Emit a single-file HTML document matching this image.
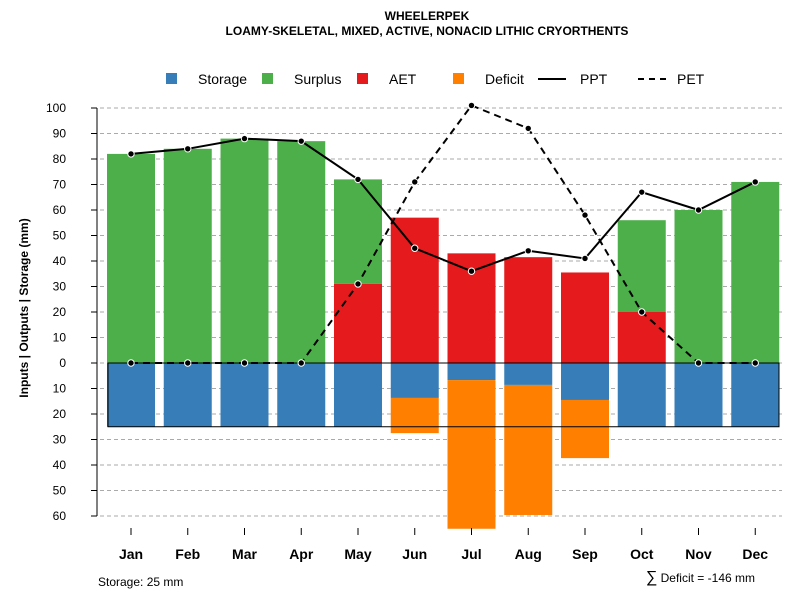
<!DOCTYPE html>
<html><head><meta charset="utf-8"><style>
body{margin:0;background:#fff;font-family:"Liberation Sans",sans-serif}
</style></head><body>
<svg id="c" width="800" height="600" xmlns="http://www.w3.org/2000/svg" font-family="Liberation Sans, sans-serif">
<text x="427" y="20" text-anchor="middle" font-size="12" font-weight="bold">WHEELERPEK</text>
<text x="427" y="35" text-anchor="middle" font-size="12" font-weight="bold">LOAMY-SKELETAL, MIXED, ACTIVE, NONACID LITHIC CRYORTHENTS</text>
<g id="legend" font-size="14">
<rect x="166" y="73" width="11" height="11" fill="#377eb8"/><text x="198" y="84">Storage</text>
<rect x="262" y="73" width="11" height="11" fill="#4daf4a"/><text x="294" y="84">Surplus</text>
<rect x="357" y="73" width="11" height="11" fill="#e41a1c"/><text x="389" y="84">AET</text>
<rect x="453" y="73" width="11" height="11" fill="#ff7f00"/><text x="485" y="84">Deficit</text>
<line x1="538" y1="79" x2="566" y2="79" stroke="#000" stroke-width="2"/><text x="580" y="84">PPT</text>
<line x1="638" y1="79" x2="666" y2="79" stroke="#000" stroke-width="2" stroke-dasharray="6,5"/><text x="677" y="84">PET</text>
</g>
<g id="grid"></g><g id="bars"></g><g id="lines"></g><g id="axes"></g>
<text transform="translate(28,308) rotate(-90)" text-anchor="middle" font-size="12" font-weight="bold">Inputs | Outputs | Storage    (mm)</text>
<text x="98" y="586" font-size="12">Storage: 25 mm</text>
<text x="755" y="582" text-anchor="end" font-size="12"><tspan font-size="16">∑</tspan> Deficit = -146 mm</text>
</svg>
<script>
const months=["Jan","Feb","Mar","Apr","May","Jun","Jul","Aug","Sep","Oct","Nov","Dec"];
const ppt=[82,84,88,87,72,45,36,44,41,67,60,71];
const pet=[0,0,0,0,31,71,101,92,58,20,0,0];
const aet=[0,0,0,0,31,57,43,41.5,35.5,20,0,0];
const surplus=[82,84,88,87,41,0,0,0,0,36,60,71];
const storage=[25,25,25,25,25,13.7,6.7,8.6,14.5,25,25,25];
const deficit=[0,0,0,0,0,13.8,58.3,51,22.8,0,0,0];
const yTicks=[60,50,40,30,20,10,0,10,20,30,40,50,60,70,80,90,100];
const yVals=[-60,-50,-40,-30,-20,-10,0,10,20,30,40,50,60,70,80,90,100];
const NS="http://www.w3.org/2000/svg";
const y=v=>363-v*2.55, x=i=>131+i*56.75, bw=48;
function mk(g,t,a){const e=document.createElementNS(NS,t);for(const k in a)e.setAttribute(k,a[k]);document.getElementById(g).appendChild(e);return e;}
yVals.forEach((v,i)=>{
 const l=mk("grid","line",{x1:100,x2:782,y1:y(v),y2:y(v),stroke:"#aaa","stroke-dasharray":"4,3"});
 
 
 const t=mk("axes","line",{x1:91,x2:97,y1:y(v),y2:y(v),stroke:"#000"});
 
 
 const tx=mk("axes","text",{x:66,y:y(v)+4,"font-size":"12","text-anchor":"end"});tx.textContent=yTicks[i];
 
 
});
const ax=mk("axes","line",{x1:97,x2:97,y1:y(100),y2:y(-60),stroke:"#000"});


months.forEach((m,i)=>{
 const cx=x(i);
 function bar(v0,v1,col,name){if(Math.abs(v1-v0)<0.01)return;const r=mk("bars","rect",{x:cx-bw/2,y:Math.min(y(v0),y(v1)),width:bw,height:Math.abs(y(v1)-y(v0)),fill:col});
 
 }
 bar(0,aet[i],"#e41a1c","bar-aet-"+m.toLowerCase());
 bar(aet[i],aet[i]+surplus[i],"#4daf4a","bar-surplus-"+m.toLowerCase());
 bar(0,-storage[i],"#377eb8","bar-storage-"+m.toLowerCase());
 bar(-storage[i],-storage[i]-deficit[i],"#ff7f00","bar-deficit-"+m.toLowerCase());
 const t=mk("axes","line",{x1:cx,x2:cx,y1:528,y2:535,stroke:"#000"});
 
 
 const tx=mk("axes","text",{x:cx,y:559,"font-size":"14","font-weight":"bold","text-anchor":"middle"});tx.textContent=m;
 
 
});
const box=mk("bars","rect",{x:108,y:y(0),width:671,height:y(-25)-y(0),fill:"none",stroke:"#000"});


function series(arr,dash,name){
 const p=mk("lines","polyline",{points:arr.map((v,i)=>x(i)+","+y(v)).join(" "),fill:"none",stroke:"#000","stroke-width":"2","stroke-dasharray":dash});
 
 
 arr.forEach((v,i)=>{const c=mk("lines","circle",{cx:x(i),cy:y(v),r:3.2,fill:"#000",stroke:"#fff","stroke-width":"1"});
 
 });
}
series(pet,"7,5","pet");
series(ppt,"none","ppt");
</script>
</body></html>
